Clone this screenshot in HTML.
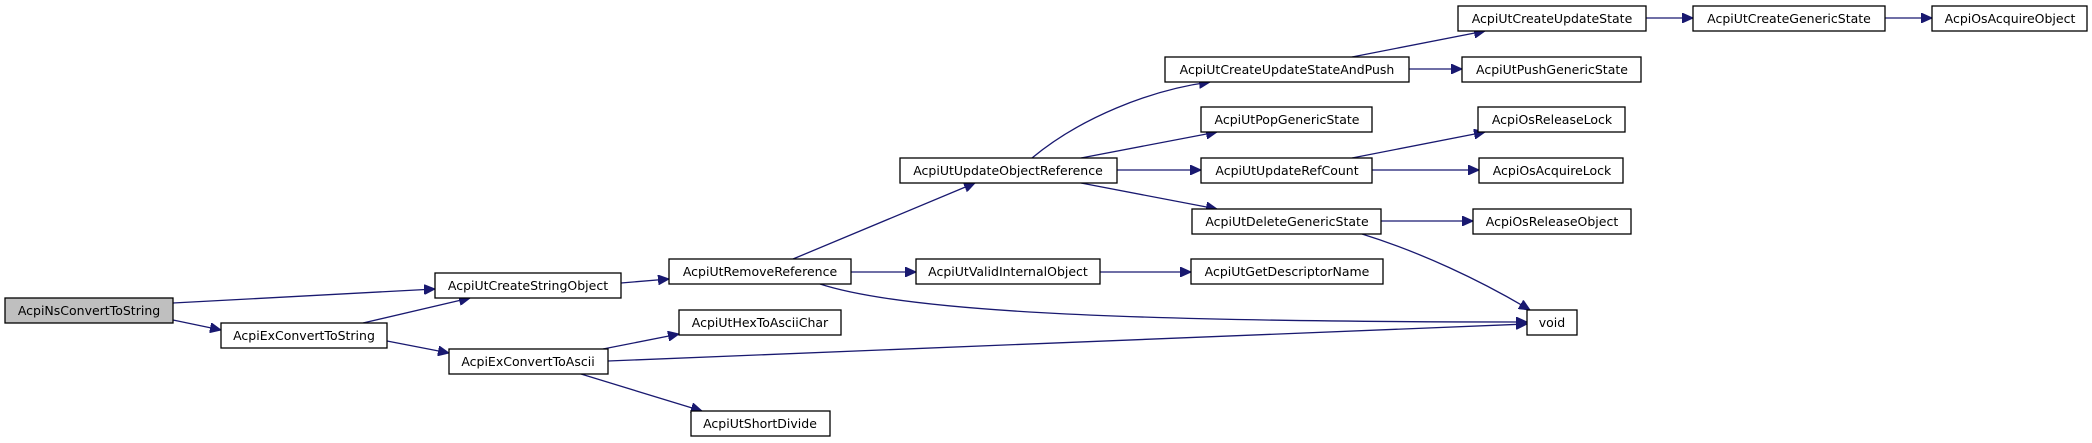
<!DOCTYPE html>
<html><head><meta charset="utf-8"><style>
html,body{margin:0;padding:0;background:#fff;}
svg{display:block;}
text{font-family:"DejaVu Sans","Liberation Sans",sans-serif;font-size:12.5px;fill:#000;}
rect{stroke:#000;stroke-width:1.3;}
path{fill:none;stroke:#191970;stroke-width:1.3;}
</style></head><body>
<svg width="2092" height="443" viewBox="0 0 2092 443" xmlns="http://www.w3.org/2000/svg">
<defs>
<marker id="a" markerUnits="userSpaceOnUse" markerWidth="12" markerHeight="10" refX="11" refY="5" orient="auto">
<path d="M0,0 L11,5 L0,10 Z" style="fill:#191970;stroke:#191970;stroke-width:1"/>
</marker>
</defs>
<g marker-end="url(#a)">
<path d="M173,303 L435,289"/>
<path d="M173,320 L221,330"/>
<path d="M363,323 L470,298"/>
<path d="M387,341 L449,353"/>
<path d="M621,283 L669,279"/>
<path d="M793,259 L975,183"/>
<path d="M851,272 L916,272"/>
<path d="M820,284 C900,310 1100,322 1527,322"/>
<path d="M1100,272 L1191,272"/>
<path d="M1032,158 C1080,118 1150,90 1210,82"/>
<path d="M1081,158 L1217,132"/>
<path d="M1117,170 L1201,170"/>
<path d="M1081,183 L1217,209"/>
<path d="M1352,57 L1485,31"/>
<path d="M1409,69 L1462,69"/>
<path d="M1646,18 L1693,18"/>
<path d="M1885,18 L1932,18"/>
<path d="M1352,158 L1485,132"/>
<path d="M1372,170 L1479,170"/>
<path d="M1381,221 L1473,221"/>
<path d="M1362,234 C1420,252 1480,280 1530,310"/>
<path d="M608,361 L1527,324"/>
<path d="M603,349 L679,334"/>
<path d="M581,374 L702,411"/>
</g>
<g>
<rect x="5" y="298" width="168" height="25" fill="#bfbfbf"/><text x="89" y="315" text-anchor="middle">AcpiNsConvertToString</text>
<rect x="435" y="273" width="186" height="25" fill="#fff"/><text x="528" y="290" text-anchor="middle">AcpiUtCreateStringObject</text>
<rect x="221" y="323" width="166" height="25" fill="#fff"/><text x="304" y="340" text-anchor="middle">AcpiExConvertToString</text>
<rect x="449" y="349" width="159" height="25" fill="#fff"/><text x="528" y="366" text-anchor="middle">AcpiExConvertToAscii</text>
<rect x="669" y="259" width="182" height="25" fill="#fff"/><text x="760" y="276" text-anchor="middle">AcpiUtRemoveReference</text>
<rect x="916" y="259" width="184" height="25" fill="#fff"/><text x="1008" y="276" text-anchor="middle">AcpiUtValidInternalObject</text>
<rect x="1191" y="259" width="192" height="25" fill="#fff"/><text x="1287" y="276" text-anchor="middle">AcpiUtGetDescriptorName</text>
<rect x="679" y="310" width="162" height="25" fill="#fff"/><text x="760" y="327" text-anchor="middle">AcpiUtHexToAsciiChar</text>
<rect x="691" y="411" width="139" height="25" fill="#fff"/><text x="760" y="428" text-anchor="middle">AcpiUtShortDivide</text>
<rect x="900" y="158" width="217" height="25" fill="#fff"/><text x="1008" y="175" text-anchor="middle">AcpiUtUpdateObjectReference</text>
<rect x="1165" y="57" width="244" height="25" fill="#fff"/><text x="1287" y="74" text-anchor="middle">AcpiUtCreateUpdateStateAndPush</text>
<rect x="1201" y="107" width="171" height="25" fill="#fff"/><text x="1287" y="124" text-anchor="middle">AcpiUtPopGenericState</text>
<rect x="1201" y="158" width="171" height="25" fill="#fff"/><text x="1287" y="175" text-anchor="middle">AcpiUtUpdateRefCount</text>
<rect x="1192" y="209" width="189" height="25" fill="#fff"/><text x="1287" y="226" text-anchor="middle">AcpiUtDeleteGenericState</text>
<rect x="1458" y="6" width="188" height="25" fill="#fff"/><text x="1552" y="23" text-anchor="middle">AcpiUtCreateUpdateState</text>
<rect x="1693" y="6" width="192" height="25" fill="#fff"/><text x="1789" y="23" text-anchor="middle">AcpiUtCreateGenericState</text>
<rect x="1932" y="6" width="155" height="25" fill="#fff"/><text x="2010" y="23" text-anchor="middle">AcpiOsAcquireObject</text>
<rect x="1462" y="57" width="179" height="25" fill="#fff"/><text x="1552" y="74" text-anchor="middle">AcpiUtPushGenericState</text>
<rect x="1478" y="107" width="147" height="25" fill="#fff"/><text x="1552" y="124" text-anchor="middle">AcpiOsReleaseLock</text>
<rect x="1479" y="158" width="144" height="25" fill="#fff"/><text x="1552" y="175" text-anchor="middle">AcpiOsAcquireLock</text>
<rect x="1473" y="209" width="158" height="25" fill="#fff"/><text x="1552" y="226" text-anchor="middle">AcpiOsReleaseObject</text>
<rect x="1527" y="310" width="50" height="25" fill="#fff"/><text x="1552" y="327" text-anchor="middle">void</text>
</g>
</svg>
</body></html>
